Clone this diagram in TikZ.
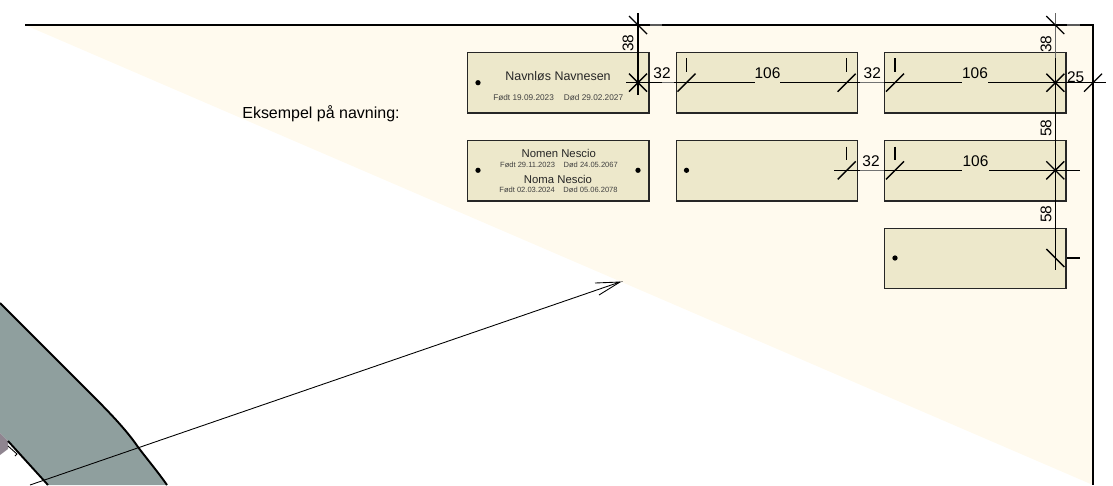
\documentclass[tikz,border=0pt]{standalone}
\usepackage{fontspec}
\setmainfont{Liberation Sans}
\usetikzlibrary{positioning}
\definecolor{sheetcream}{HTML}{FFFAEE}
\definecolor{platefill}{HTML}{EDE8CB}
\definecolor{blockgrey}{HTML}{8F9F9E}
\definecolor{hatchgrey}{HTML}{8F8590}
\begin{document}
\begin{tikzpicture}[x=0.02cm,y=-0.02cm,
	plate/.style={draw=black!85,line width=0.7pt,fill=platefill,minimum width=3.63cm,minimum height=1.21cm,inner sep=0pt,anchor=north west},
	hole/.style={circle,fill=black,inner sep=0pt,minimum size=3pt},
	dimline/.style={line width=0.65pt},
	dimtick/.style={line width=0.8pt},
	bigname/.style={font=\fontsize{6.45}{8}\selectfont,inner sep=0pt,text=black!85},
	smalldate/.style={font=\fontsize{4.3}{5}\selectfont,inner sep=0pt,text=black!75},
	dimlabel/.style={font=\fontsize{8.8}{10}\selectfont,inner sep=1pt}]
	\useasboundingbox (0,0) rectangle (1113,485);
	% sheet
	\fill [sheetcream] (25,25) -- (1093,25) -- (1093,485) -- cycle;
	\draw [line width=0.9pt] (25,25) -- (1093,25) -- (1093,485);
	% grey block at the lower left
	\fill [blockgrey] (0,303) -- (70,373) .. controls (100,403) and (123,425) .. (138,447) .. controls (147,459) and (158,472) .. (167,485) -- (48,485) -- (8,441) -- (0,433) -- cycle;
	\fill [hatchgrey] (0,433) -- (8,441) -- (8,449) -- (0,455) -- cycle;
	\draw [line width=1.1pt] (0,303) -- (70,373) .. controls (100,403) and (123,425) .. (138,447) .. controls (147,459) and (158,472) .. (167,485);
	\draw [line width=1.1pt] (8,441) -- (48,485);
	\draw [line width=0.5pt] (8,446) -- (17,454) -- (15,456);
	% leader arrow
	\coordinate (arrowstart) at (30,485);
	\coordinate (arrowtip) at (620,282);
	\draw [line width=0.5pt] (arrowstart) -- (arrowtip) -- (595,283);
	\draw [line width=0.5pt] (arrowtip) -- (599,295);
	\node (example) [font=\fontsize{9.1}{10}\selectfont,inner sep=0pt] at (321,114) {Eksempel på navning:};
	% plates
	\node (plateaa) [plate] at (467,52) {};
	\node (plateab) [plate] at (675.5,52) {};
	\node (plateac) [plate] at (884,52) {};
	\node (plateba) [plate] at (467,140) {};
	\node (platebb) [plate] at (675.5,140) {};
	\node (platebc) [plate] at (884,140) {};
	\node (platecc) [plate] at (884,227.5) {};
	\node (holeaa) [hole] at (478,82.7) {};
	\node (holeba) [hole] at (478,170.3) {};
	\node (holebb) [hole] at (638,170.3) {};
	\node (holebc) [hole] at (686.5,170.3) {};
	\node (holecc) [hole] at (895,258) {};
	% plate texts
	\node (namea) [bigname,font=\fontsize{7.1}{8}\selectfont] at (558,75.7) {Navnløs Navnesen};
	\node (datea) [smalldate,font=\fontsize{4.7}{5}\selectfont] at (558.2,97.3) {Født 19.09.2023\hspace{5.7pt}Død 29.02.2027};
	\node (nameb) [bigname] at (558.8,153.3) {Nomen Nescio};
	\node (dateb) [smalldate] at (559,164.7) {Født 29.11.2023\hspace{4.9pt}Død 24.05.2067};
	\node (namec) [bigname] at (558,179.3) {Noma Nescio};
	\node (datec) [smalldate] at (558.5,190.3) {Født 02.03.2024\hspace{4.9pt}Død 05.06.2078};
	% dimension lines
	\coordinate (rowastart) at (626,82.7);
	\coordinate (rowaend) at (1106,82.7);
	\coordinate (rowbstart) at (834,170.3);
	\coordinate (rowbend) at (1080,170.3);
	\coordinate (colatop) at (638,13);
	\coordinate (colaend) at (638,95);
	\coordinate (colbtop) at (1055.3,58);
	\coordinate (colbend) at (1055.3,270);
	\draw [dimline] (rowastart) -- (rowaend);
	\draw [dimline] (rowbstart) -- (rowbend);
	\draw [dimline] (colatop) -- (colaend);
	\draw [dimline] (colbtop) -- (colbend);
	\draw [black!60,line width=0.5pt] (1055.3,13) -- (colbtop);
	\draw [dimline] (1067,258) -- (1080,258);
	\draw [black!65,line width=0.9pt] (650,25) -- (662,25);
	\draw [black!65,line width=0.9pt] (1067,25) -- (1080,25);
	% ticks
	\coordinate (ticka) at (638,25);
	\coordinate (tickb) at (638,82.7);
	\coordinate (tickc) at (686.5,82.7);
	\coordinate (tickd) at (846.7,82.7);
	\coordinate (ticke) at (895,82.7);
	\coordinate (tickf) at (1055.3,82.7);
	\coordinate (tickg) at (1093,82.7);
	\coordinate (tickh) at (1055.3,25);
	\coordinate (ticki) at (846.7,170.3);
	\coordinate (tickj) at (895,170.3);
	\coordinate (tickk) at (1055.3,170.3);
	\coordinate (tickl) at (1055.3,258);
	\draw [dimtick] (ticka) ++(-9,-9) -- ++(18,18);
	\draw [dimtick] (tickb) ++(-9,-9) -- ++(18,18);
	\draw [dimtick] (tickb) ++(-9,9) -- ++(18,-18);
	\draw [dimtick] (tickc) ++(-9,9) -- ++(18,-18);
	\draw [dimtick] (tickd) ++(-9,9) -- ++(18,-18);
	\draw [dimtick] (ticke) ++(-9,9) -- ++(18,-18);
	\draw [dimtick] (tickf) ++(-9,-9) -- ++(18,18);
	\draw [dimtick] (tickf) ++(-9,9) -- ++(18,-18);
	\draw [dimline] (tickg) ++(-9,9) -- ++(18,-18);
	\draw [dimline] (tickh) ++(-9,-9) -- ++(18,18);
	\draw [dimtick] (ticki) ++(-9,9) -- ++(18,-18);
	\draw [dimtick] (tickj) ++(-9,9) -- ++(18,-18);
	\draw [dimtick] (tickk) ++(-9,-9) -- ++(18,18);
	\draw [dimtick] (tickk) ++(-9,9) -- ++(18,-18);
	\draw [dimtick] (tickl) ++(-9,-9) -- ++(18,18);
	% short end marks
	\draw [dimline] (686.7,58) -- (686.7,72);
	\draw [dimline] (846.7,58) -- (846.7,72);
	\draw [dimline] (895,58) -- (895,72);
	\draw [dimline] (846.7,146.7) -- (846.7,160);
	\draw [dimline] (895,146.7) -- (895,160);
	% dimension labels
	\fill [platefill] (755,80) rectangle (780,85);
	\fill [platefill] (962,80) rectangle (988,85);
	\fill [platefill] (962,168) rectangle (989,173);
	\fill [sheetcream] (662,80) rectangle (674,85);
	\fill [sheetcream] (860,80) rectangle (884,85);
	\fill [sheetcream] (860,168) rectangle (884,173);
	\draw [black!55,line width=0.4pt] (662,82.7) -- (674,82.7);
	\draw [black!55,line width=0.4pt] (860,82.7) -- (884,82.7);
	\draw [black!55,line width=0.4pt] (860,170.3) -- (884,170.3);
	\node (widtha) [dimlabel] at (767.5,73.5) {106};
	\node (widthb) [dimlabel] at (975,73.5) {106};
	\node (widthc) [dimlabel] at (975.5,161) {106};
	\node (gapa) [dimlabel] at (662,73) {32};
	\node (gapb) [dimlabel] at (872.3,73) {32};
	\node (gapc) [dimlabel] at (871,160.7) {32};
	\node (edgea) [dimlabel,rotate=90] at (628,43) {38};
	\node (edgeb) [dimlabel,rotate=90] at (1046,44) {38};
	\node (edgec) [dimlabel,rotate=90] at (1046,128) {58};
	\node (edged) [dimlabel,rotate=90] at (1046,214) {58};
	\node (edgee) [dimlabel] at (1075.7,76.7) {25};
\end{tikzpicture}
\end{document}
